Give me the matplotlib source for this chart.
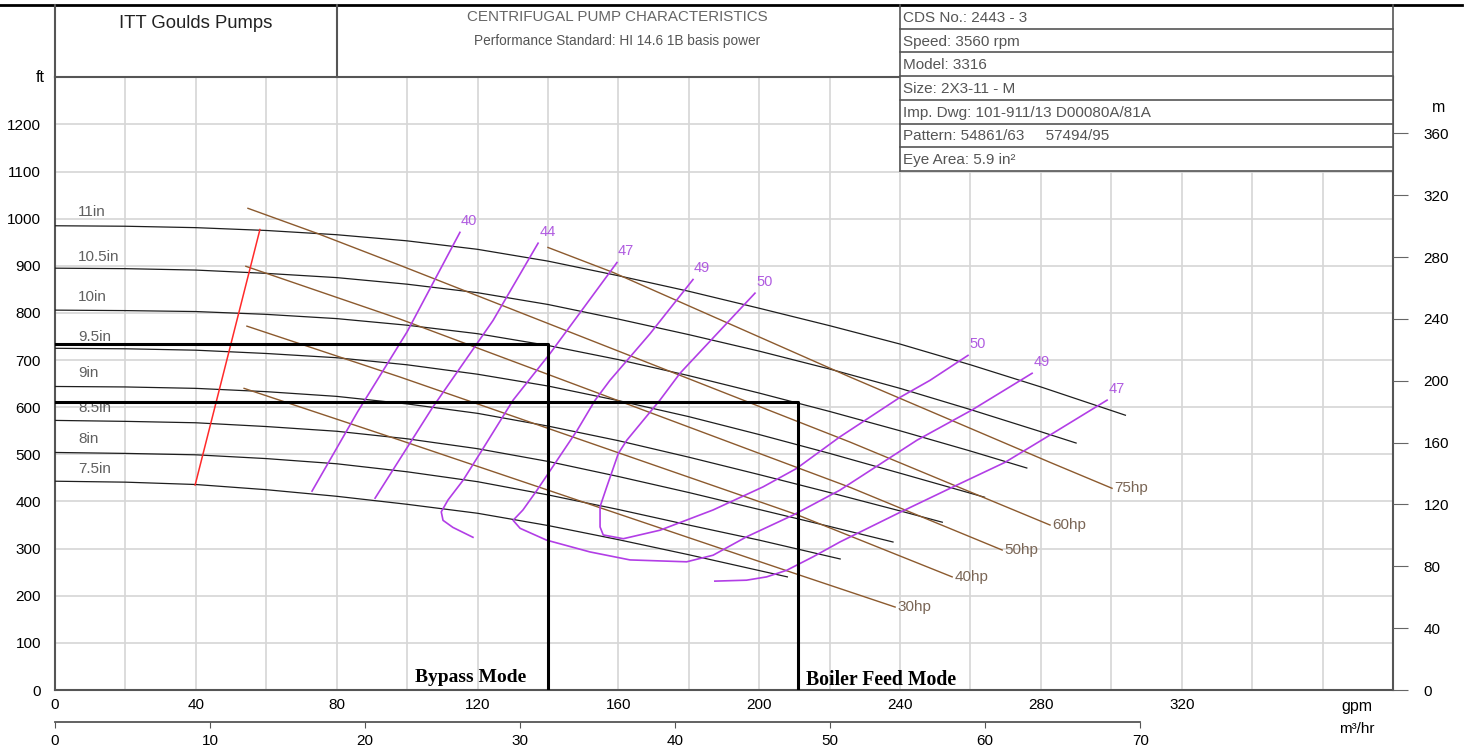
import numpy as np
import matplotlib.pyplot as plt

# %%
# * Head curves, one per impeller diameter (gpm, ft)
q_110 = [0, 20, 40, 60, 80, 100, 120, 140, 160, 180, 200, 220, 240, 260, 280, 304]
h_110 = [985, 984, 981, 975, 966, 953, 935, 910, 879, 846, 810, 773, 734, 690, 643, 583]
q_105 = [0, 20, 40, 60, 80, 100, 120, 140, 160, 180, 200, 220, 240, 260, 280, 290]
h_105 = [895, 894, 891, 884, 875, 861, 843, 818, 787, 754, 719, 681, 640, 595, 548, 524]
q_100 = [0, 20, 40, 60, 80, 100, 120, 140, 160, 180, 200, 220, 240, 260, 276]
h_100 = [806, 805, 803, 797, 788, 774, 756, 731, 701, 667, 630, 591, 550, 507, 471]
q_095 = [0, 20, 40, 60, 80, 100, 120, 140, 160, 180, 200, 220, 240, 264]
h_095 = [725, 724, 721, 714, 705, 690, 670, 645, 614, 580, 542, 502, 460, 409]
q_090 = [0, 20, 40, 60, 80, 100, 120, 140, 160, 180, 200, 220, 240, 252]
h_090 = [644, 643, 640, 633, 623, 607, 587, 560, 529, 494, 457, 419, 380, 356]
q_085 = [0, 20, 40, 60, 80, 100, 120, 140, 160, 180, 200, 220, 238]
h_085 = [572, 570, 567, 559, 549, 533, 512, 485, 453, 419, 383, 347, 314]
q_080 = [0, 20, 40, 60, 80, 100, 120, 140, 160, 180, 200, 223]
h_080 = [504, 502, 499, 491, 480, 463, 442, 414, 383, 350, 318, 278]
q_075 = [0, 20, 40, 60, 80, 100, 120, 140, 160, 180, 208]
h_075 = [443, 441, 436, 425, 411, 394, 375, 349, 319, 287, 240]
imp_labels = ["11in", "10.5in", "10in", "9.5in", "9in", "8.5in", "8in", "7.5in"]
imp_label_h = [1014, 919, 833, 748, 672, 598, 532, 468]

# * Power curves (hp)
q_75hp = [140, 158.5, 225.8, 282.6, 300.2]
h_75hp = [939, 886, 664, 483, 428]
q_60hp = [54.8, 74.4, 98, 225.8, 282.6]
h_60hp = [1022, 969, 901, 526, 350]
q_50hp = [54.2, 98, 225.8, 269]
h_50hp = [899, 787, 430, 297]
q_40hp = [54.5, 98, 210.7, 254.8]
h_40hp = [772, 664, 372, 240]
q_30hp = [53.7, 98, 211, 238.6]
h_30hp = [640, 530, 245, 176]
hp_labels = ["75hp", "60hp", "50hp", "40hp", "30hp"]

# * Efficiency curves (%)
q_e40 = [73, 86, 100, 115]
h_e40 = [422, 591, 760, 971]
q_e44 = [90.9, 107.1, 124.4, 137.2]
h_e44 = [407, 598, 784, 948]
q_e47a = [118.7, 113.0, 110.2, 109.7, 111.6, 115.9, 120.7, 130.1, 140.6, 159.6]
h_e47a = [324, 345, 360, 378, 403, 445, 502, 615, 714, 907]
q_e49 = [181.2, 169.0, 157.6, 153.4, 148.3, 136.9, 132.9, 130.1, 132.1, 139.6,
         151.9, 163.3, 179.4, 186.9, 196.4, 209.6, 222.9, 244.8, 260.4, 277.5]
h_e49 = [871, 756, 657, 615, 551, 424, 382, 360, 343, 318,
         293, 276, 272, 286, 325, 371, 424, 530, 594, 672]
q_e50 = [198.8, 177.5, 171.8, 162.4, 160.0, 156.7, 154.8, 154.8, 155.7, 161.4,
         171.8, 186.9, 201.1, 210.6, 222.9, 240.0, 248.5, 259.3]
h_e50 = [842, 672, 615, 530, 502, 431, 389, 346, 329, 321,
         339, 382, 431, 470, 537, 621, 657, 710]
q_e47b = [187.4, 196.4, 202.1, 207.8, 215.4, 222.9, 240.0, 256.2, 269.8, 282.6, 298.8]
h_e47b = [231, 233, 240, 254, 283, 314, 377, 435, 483, 541, 615]
eff_labels = ["40", "44", "47", "49", "50", "50", "49", "47"]

# * Red line
q_red = [39.8, 58.2]
h_red = [435, 977]

# * Operating points
bypass_q, bypass_h = 140.0, 735
boiler_q, boiler_h = 210.9, 612

table_rows = ["CDS No.: 2443 - 3", "Speed: 3560 rpm", "Model: 3316", "Size: 2X3-11 - M",
              "Imp. Dwg: 101-911/13 D00080A/81A", "Pattern: 54861/63     57494/95",
              "Eye Area: 5.9 in\u00b2"]

# %%
plt.rcParams['font.family'] = ['Liberation Sans', 'DejaVu Sans']
W, H = 1474, 752
fig = plt.figure(figsize=(W / 100, H / 100), dpi=100)
ax = fig.add_axes([55 / W, 1 - 690 / H, (1393 - 55) / W, (690 - 77.3) / H])
ax.set_xlim(0, 380)
ax.set_ylim(0, 1300)

xt = np.arange(0, 361, 20)
ax.set_xticks(xt)
ax.set_xticklabels([str(v) if (v % 40 == 0 and v <= 320) else "" for v in xt], fontsize=11)
yt = np.arange(0, 1301, 100)
ax.set_yticks(yt)
ax.set_yticklabels([str(v) if v <= 1200 else "" for v in yt], fontsize=11)
ax.tick_params(axis='x', length=0, pad=6)
ax.tick_params(axis='y', length=0, pad=10)
ax.grid(True, color='#d6d6d6', lw=1.2, zorder=0)
ax.set_axisbelow(True)
for s in ax.spines.values():
    s.set_color('#555555')
    s.set_linewidth(1.5)

# head curves
heads = [(q_110, h_110), (q_105, h_105), (q_100, h_100), (q_095, h_095),
         (q_090, h_090), (q_085, h_085), (q_080, h_080), (q_075, h_075)]
for (q, h), lab, lh in zip(heads, imp_labels, imp_label_h):
    ax.plot(q, h, color='#1e1e1e', lw=0.9, zorder=3)
    ax.text(6.5, lh, lab, fontsize=11, color='#606060', va='center', ha='left')

# power curves
powers = [(q_75hp, h_75hp), (q_60hp, h_60hp), (q_50hp, h_50hp), (q_40hp, h_40hp), (q_30hp, h_30hp)]
for (q, h), lab in zip(powers, hp_labels):
    ax.plot(q, h, color='#8c5a2e', lw=1.0, zorder=3)
    ax.text(q[-1] + 0.6, h[-1], lab, fontsize=11, color='#7a6656', va='center', ha='left')

# efficiency curves
effs = [(q_e40, h_e40), (q_e44, h_e44), (q_e47a, h_e47a), (q_e49, h_e49),
        (q_e50, h_e50), (q_e47b, h_e47b)]
for q, h in effs:
    ax.plot(q, h, color='#b23ee6', lw=1.2, zorder=4)
eff_pos = [(q_e40[-1], h_e40[-1]), (q_e44[-1], h_e44[-1]), (q_e47a[-1], h_e47a[-1]),
           (q_e49[0], h_e49[0]), (q_e50[0], h_e50[0]), (q_e50[-1], h_e50[-1]),
           (q_e49[-1], h_e49[-1]), (q_e47b[-1], h_e47b[-1])]
for (q, h), lab in zip(eff_pos, eff_labels):
    ax.text(q + 0.3, h + 24, lab, fontsize=10.5, color='#b05ce0', va='center', ha='left')

ax.plot(q_red, h_red, color='#ff2a2a', lw=1.1, zorder=4)

# operating boxes
ax.plot([0, bypass_q, bypass_q], [bypass_h, bypass_h, 0], color='black', lw=2.2, zorder=5)
ax.plot([0, boiler_q, boiler_q], [boiler_h, boiler_h, 0], color='black', lw=2.2, zorder=5)
ax.text(102.2, 27, "Bypass Mode", fontsize=14, fontweight='bold',
        family='Liberation Serif', va='center', ha='left', zorder=6)
ax.text(213.3, 22, "Boiler Feed Mode", fontsize=14.2, fontweight='bold',
        family='Liberation Serif', va='center', ha='left', zorder=6)

# right axis in metres
ax2 = ax.twinx()
ax2.set_ylim(0, 1300 / 3.28084)
ax2.set_yticks(np.arange(0, 361, 40))
ax2.tick_params(axis='y', direction='out', length=11, color='#666666', pad=11, labelsize=11)
for s in ax2.spines.values():
    s.set_visible(False)

# second flow axis in m3/hr
sec = ax.secondary_xaxis(-0.052, functions=(lambda q: q / 4.40287, lambda m: m * 4.40287))
sec.set_xticks(np.arange(0, 71, 10))
sec.tick_params(axis='x', direction='out', length=4, color='#555555', pad=5, labelsize=11)
sec.spines['bottom'].set_bounds(0, 70)
sec.spines['bottom'].set_color('#555555')
sec.spines['bottom'].set_linewidth(1.3)

# %%
# * Header block drawn in pixel coordinates
ov = fig.add_axes([0, 0, 1, 1], zorder=5)
ov.set_xlim(0, W)
ov.set_ylim(H, 0)
ov.axis('off')
ov.add_patch(plt.Rectangle((900, 5), 493, 166, facecolor='white', edgecolor='none'))
ov.plot([0, 1462], [5, 5], color='black', lw=2)
ov.plot([55, 55], [5, 77], color='#555555', lw=1.5)
ov.plot([337, 337], [5, 77], color='#555555', lw=1.5)
ov.plot([900, 900], [5, 171], color='#555555', lw=1.2)
ov.plot([1393, 1393], [5, 171], color='#555555', lw=1.2)
row_h = 166 / 7
for i, txt in enumerate(table_rows):
    y0 = 5 + i * row_h
    ov.plot([900, 1393], [y0 + row_h, y0 + row_h], color='#555555', lw=1.2)
    ov.text(903, y0 + row_h / 2 + 1, txt, fontsize=11, color='#555555', va='center', ha='left')
ov.text(196, 24, "ITT Goulds Pumps", fontsize=13.3, color='#222222', va='center', ha='center')
ov.text(617, 17, "CENTRIFUGAL PUMP CHARACTERISTICS", fontsize=10.9, color='#666666',
        va='center', ha='center')
ov.text(617, 41, "Performance Standard: HI 14.6 1B basis power", fontsize=9.8, color='#555555',
        va='center', ha='center')
ov.text(45, 78, "ft", fontsize=11.5, va='center', ha='right')
ov.text(1432, 107, "m", fontsize=11.5, va='center', ha='left')
ov.text(1357, 706, "gpm", fontsize=11.5, va='center', ha='center')
ov.text(1357, 729, "m\u00b3/hr", fontsize=11, va='center', ha='center')

fig.savefig("out.png", dpi=100)
